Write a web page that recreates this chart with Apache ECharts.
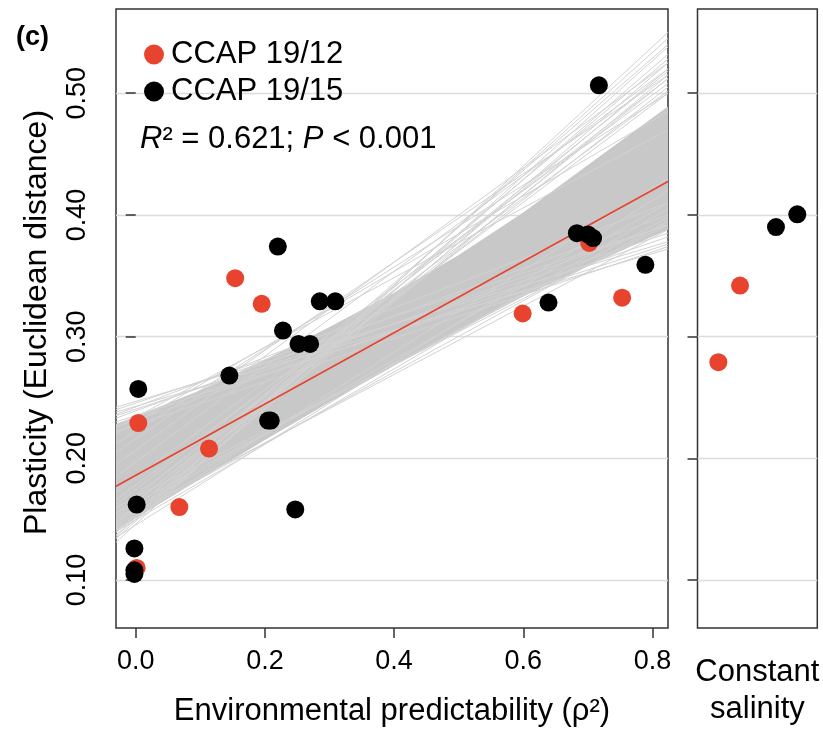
<!DOCTYPE html>
<html><head><meta charset="utf-8">
<script src="https://cdn.jsdelivr.net/npm/echarts@6/dist/echarts.min.js"></script>
<style>html,body{margin:0;padding:0;background:#fff}#c{width:823px;height:730px}</style>
</head><body><div id="c"></div>
<script>
// ---------- data ----------
const xTicks = [0, 0.2, 0.4, 0.6, 0.8];
const yTicks = [0.1, 0.2, 0.3, 0.4, 0.5];
const strainNames = ['CCAP 19/12', 'CCAP 19/15'];

// predictability (rho^2), plasticity
const ccap1912 = [
  [0.004, 0.229], [0.154, 0.348], [0.195, 0.327], [0.1135, 0.208], [0.0675, 0.160],
  [0.0015, 0.110], [0.599, 0.319], [0.702, 0.377], [0.753, 0.332]
];
const ccap1915 = [
  [0.004, 0.257], [0.220, 0.374], [0.285, 0.329], [0.309, 0.329], [0.228, 0.305],
  [0.252, 0.294], [0.270, 0.294], [0.145, 0.268], [0.205, 0.231], [0.209, 0.231],
  [0.247, 0.158], [0.0015, 0.162], [-0.002, 0.126], [-0.002, 0.108], [-0.002, 0.105],
  [0.639, 0.328], [0.683, 0.385], [0.700, 0.384], [0.708, 0.381], [0.789, 0.359],
  [0.717, 0.5065]
];
// constant salinity panel (jittered position, plasticity)
const constPos1912 = [0.174, 0.355];
const constVal1912 = [0.279, 0.342];
const constPos1915 = [0.655, 0.833];
const constVal1915 = [0.390, 0.4005];

// fitted regression line
const fitIntercept = 0.186;
const fitSlope = 0.293;

// dense core of the bootstrap fan
const bandX     = [-0.0305, 0.1, 0.2, 0.3, 0.4, 0.5, 0.6, 0.7, 0.824];
const bandUpper = [0.228, 0.256, 0.281, 0.308, 0.336, 0.367, 0.402, 0.441, 0.489];
const bandLower = [0.141, 0.183, 0.215, 0.246, 0.276, 0.305, 0.333, 0.358, 0.388];

// outer bootstrap lines: [value at left edge, value at right edge]
const bootLines = [
  [0.131, 0.550], [0.134, 0.538], [0.137, 0.545], [0.136, 0.525], [0.140, 0.532],
  [0.139, 0.515], [0.143, 0.520], [0.145, 0.540], [0.147, 0.512], [0.150, 0.528],
  [0.152, 0.505], [0.155, 0.518], [0.158, 0.500], [0.162, 0.512], [0.166, 0.502],
  [0.172, 0.508], [0.185, 0.520], [0.195, 0.525], [0.205, 0.515], [0.212, 0.500],
  [0.220, 0.485], [0.225, 0.470], [0.242, 0.378], [0.240, 0.392], [0.238, 0.372],
  [0.235, 0.385], [0.233, 0.400], [0.230, 0.376], [0.228, 0.392], [0.236, 0.410],
  [0.226, 0.382], [0.222, 0.374], [0.140, 0.405], [0.145, 0.395], [0.150, 0.410],
  [0.148, 0.388], [0.155, 0.398], [0.135, 0.420], [0.160, 0.392], [0.142, 0.430]
];

// ---------- layout / style ----------
const X_MIN = -0.0305, X_MAX = 0.824;
const Y_MIN = 0.0606, Y_MAX = 0.5692;
const RED = '#e8432e', BLACK = '#000000';
const FONT = 'Liberation Sans, Arial, Helvetica, sans-serif';
const FRAME = '#333333';

const chart = echarts.init(document.getElementById('c'), null, {renderer: 'canvas'});

const yAxisCommon = {
  type: 'value', min: Y_MIN, max: Y_MAX, splitNumber: 5,
  axisLine: {show: false},
  axisTick: {show: true, customValues: yTicks, length: 10, lineStyle: {color: FRAME, width: 1.5}},
  splitLine: {show: true, lineStyle: {color: '#dcdcdc', width: 1.3}}
};

const option = {
  animation: false,
  backgroundColor: '#ffffff',
  textStyle: {fontFamily: FONT, color: '#000'},
  grid: [
    {left: 116, top: 9, width: 552, height: 619, show: true, borderColor: FRAME, borderWidth: 1.5,
     backgroundColor: 'transparent', outerBoundsMode: 'none'},
    {left: 697.5, top: 9, width: 119.8, height: 619, show: true, borderColor: FRAME, borderWidth: 1.5,
     backgroundColor: 'transparent', outerBoundsMode: 'none'}
  ],
  xAxis: [
    {type: 'value', gridIndex: 0, min: X_MIN, max: X_MAX,
     axisLine: {show: false, onZero: false},
     axisTick: {show: true, customValues: xTicks, length: 10, lineStyle: {color: FRAME, width: 1.5}},
     axisLabel: {customValues: xTicks, formatter: v => v.toFixed(1), fontSize: 27, margin: 20,
                 color: '#000', fontFamily: FONT},
     splitLine: {show: false},
     name: 'Environmental predictability (ρ²)', nameLocation: 'middle', nameGap: 68,
     nameTextStyle: {fontSize: 31, color: '#000', fontFamily: FONT}},
    {type: 'value', gridIndex: 1, min: 0, max: 1,
     axisLine: {show: false, onZero: false}, axisTick: {show: false}, axisLabel: {show: false},
     splitLine: {show: false},
     name: 'Constant\nsalinity', nameLocation: 'middle', nameGap: 26,
     nameTextStyle: {fontSize: 31, lineHeight: 37, color: '#000', fontFamily: FONT}}
  ],
  yAxis: [
    Object.assign({}, yAxisCommon, {
      gridIndex: 0,
      axisLabel: {customValues: yTicks, formatter: v => v.toFixed(2), rotate: 90, fontSize: 27,
                  margin: 25, color: '#000', fontFamily: FONT},
      name: 'Plasticity (Euclidean distance)', nameLocation: 'middle', nameGap: 63,
      nameTextStyle: {fontSize: 32, color: '#000', fontFamily: FONT, padding: [0, 8, 0, 0]}
    }),
    Object.assign({}, yAxisCommon, {gridIndex: 1, axisLabel: {show: false}})
  ],
  legend: {
    data: strainNames, orient: 'vertical', left: 139, top: 31, itemWidth: 20, itemHeight: 20,
    itemGap: 0, icon: 'circle', selectedMode: false,
    textStyle: {fontSize: 31, lineHeight: 37, color: '#000', fontFamily: FONT, padding: [0, 0, 0, 2]}
  },
  graphic: [
    {type: 'text', left: 16, top: 24,
     style: {text: '(c)', fontSize: 27, fontWeight: 'bold', fill: '#000', fontFamily: FONT}},
    {type: 'text', left: 140, top: 124,
     style: {text: '{i|R}² = 0.621; {i|P} < 0.001', fontSize: 31, fill: '#000', fontFamily: FONT,
             rich: {i: {fontStyle: 'italic', fontSize: 31, fontFamily: FONT}}}}
  ],
  series: [
    {type: 'custom', name: 'band', xAxisIndex: 0, yAxisIndex: 0, silent: true, z: 1,
     data: [[0, 0]],
     renderItem: (params, api) => {
       const pts = [];
       for (let i = 0; i < bandX.length; i++) pts.push(api.coord([bandX[i], bandUpper[i]]));
       for (let i = bandX.length - 1; i >= 0; i--) pts.push(api.coord([bandX[i], bandLower[i]]));
       return {type: 'polygon', shape: {points: pts}, style: {fill: '#c8c8c8'}};
     }},
    {type: 'custom', name: 'boot', xAxisIndex: 0, yAxisIndex: 0, silent: true, z: 1,
     data: bootLines,
     renderItem: (params, api) => {
       const a = api.coord([X_MIN, api.value(0)]);
       const b = api.coord([X_MAX, api.value(1)]);
       return {type: 'line', shape: {x1: a[0], y1: a[1], x2: b[0], y2: b[1]},
               style: {stroke: '#d2d2d2', lineWidth: 1}};
     }},
    {type: 'line', name: 'fit', xAxisIndex: 0, yAxisIndex: 0, silent: true, z: 3,
     showSymbol: false, symbol: 'none',
     data: [[X_MIN, fitIntercept + fitSlope * X_MIN], [X_MAX, fitIntercept + fitSlope * X_MAX]],
     lineStyle: {color: RED, width: 1.6}},
    {type: 'scatter', name: strainNames[0], xAxisIndex: 0, yAxisIndex: 0, z: 4,
     symbolSize: 18, itemStyle: {color: RED, opacity: 1}, data: ccap1912},
    {type: 'scatter', name: strainNames[1], xAxisIndex: 0, yAxisIndex: 0, z: 5,
     symbolSize: 18, itemStyle: {color: BLACK, opacity: 1}, data: ccap1915},
    {type: 'scatter', name: strainNames[0], xAxisIndex: 1, yAxisIndex: 1, z: 4,
     symbolSize: 18, itemStyle: {color: RED, opacity: 1},
     data: constPos1912.map((p, i) => [p, constVal1912[i]])},
    {type: 'scatter', name: strainNames[1], xAxisIndex: 1, yAxisIndex: 1, z: 5,
     symbolSize: 18, itemStyle: {color: BLACK, opacity: 1},
     data: constPos1915.map((p, i) => [p, constVal1915[i]])}
  ]
};
chart.setOption(option);
</script>
</body></html>
